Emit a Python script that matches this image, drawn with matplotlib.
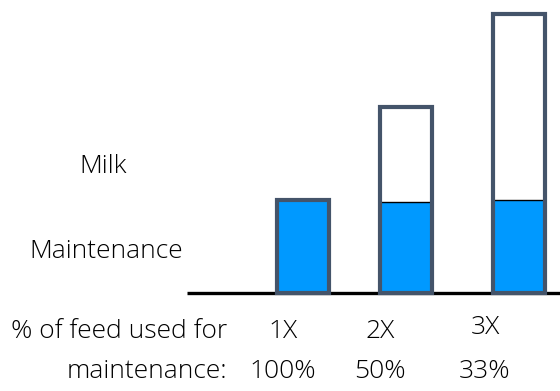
import matplotlib
matplotlib.use("Agg")
import matplotlib.pyplot as plt

# ----------------------------------------------- DATA -----------------------------------------------------------------
tiers = ["1X", "2X", "3X"]
pct_maintenance = ["100%", "50%", "33%"]
maintenance = [1.0, 0.98, 1.0]
milk = [0.0, 1.01, 1.99]

# ----------------------------------------------- STYLE ----------------------------------------------------------------
plt.rcParams['font.family'] = ['Open Sans', 'DejaVu Sans']
plt.rcParams['font.weight'] = 'light'
BLUE = '#0099FF'
EDGE = '#44546A'
TXT = '#000000'
FS = 19

fig = plt.figure(figsize=(5.6, 3.91), dpi=100)
ax = fig.add_axes([0, 0, 1, 1])
ax.set_xlim(0, 560)
ax.set_ylim(-98 / 93.3, 293 / 93.3)
ax.axis('off')

centers = [303, 406, 519]
width = 52

# baseline
ax.plot([187, 560], [0, 0], color='black', lw=2.4, zorder=1, solid_capstyle='butt')

for c, m, k in zip(centers, maintenance, milk):
    ax.bar(c, m, width=width, color=BLUE, edgecolor='none', zorder=2)
    if k > 0:
        ax.plot([c - width / 2, c + width / 2], [m, m], color='black', lw=1.0, zorder=3)
    ax.bar(c, m + k, width=width, facecolor='none', edgecolor=EDGE, linewidth=3.0, zorder=4)


def label(x, y_px, s, ha='center'):
    ax.text(x, (293 - y_px) / 93.3, s, ha=ha, va='center', fontsize=FS, color=TXT, fontweight='light')


# labels under the bars
label_x = [283, 380, 485]
for lx, t, p, y in zip(label_x, tiers, pct_maintenance, [331, 331, 327]):
    label(lx, y, t)
    label(lx, 371, p)

label(227, 331, "% of feed used for", ha='right')
label(227, 371, "maintenance:", ha='right')

# series labels on the left
label(103, 166, "Milk")
label(106, 252, "Maintenance")

fig.savefig("out.png", dpi=100)
